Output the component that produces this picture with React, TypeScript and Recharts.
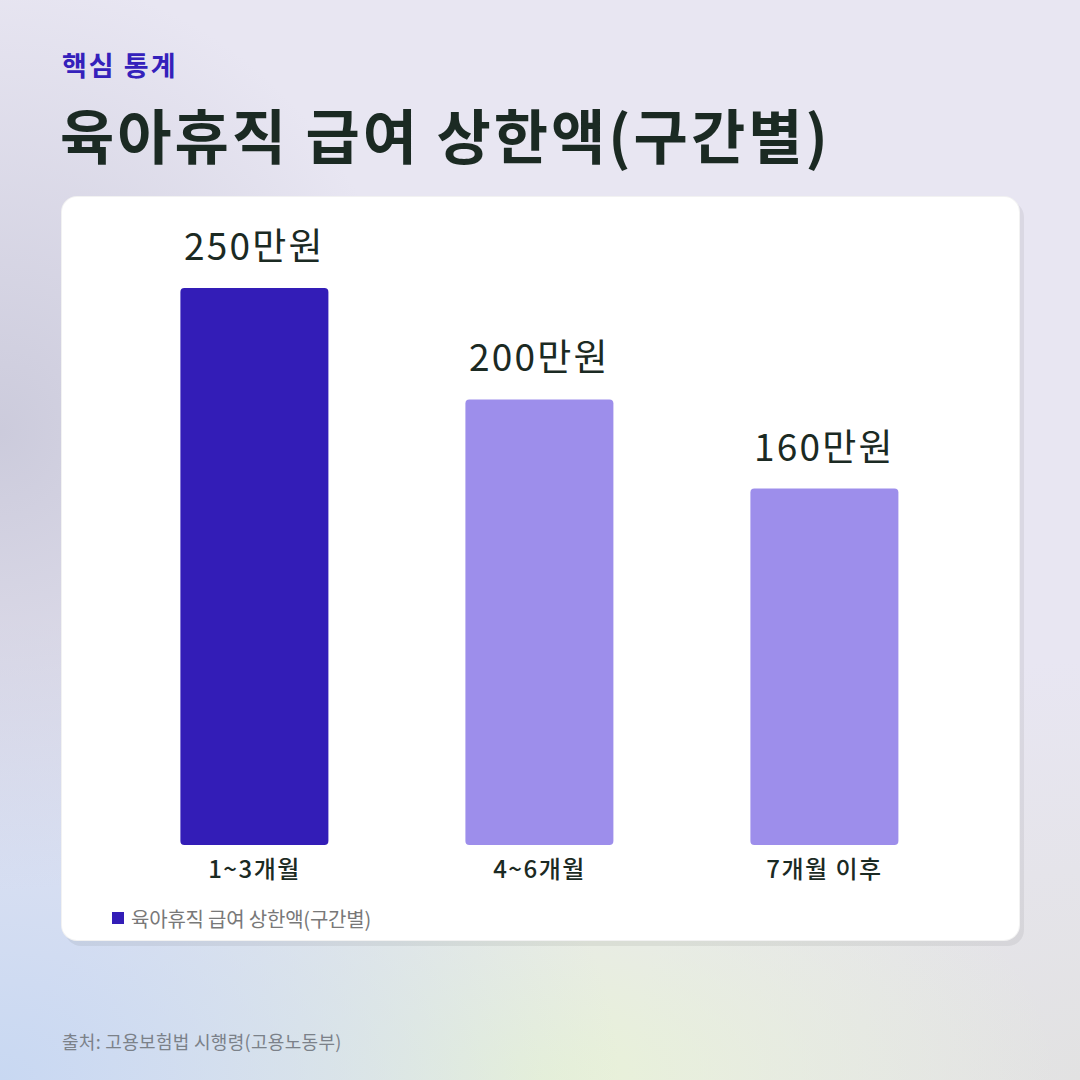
import React from "react";
import { BarChart, Bar, XAxis, YAxis, Cell, LabelList, Legend } from "recharts";

// 구간별 상한액 (만원)
const categories = ["1~3개월", "4~6개월", "7개월 이후"];
const amounts = [250, 200, 160];
const valueLabels = ["250만원", "200만원", "160만원"];
const seriesName = "육아휴직 급여 상한액(구간별)";

const data = categories.map((name, i) => ({ name, value: amounts[i], label: valueLabels[i] }));

const FONT = "'Noto Sans CJK KR', 'Noto Sans', sans-serif";
const DARK = "#1b2a23";
const ACCENT = "#331db7";
const LIGHT = "#9d8eeb";

const LegendContent = () => (
  <div style={{ display: "flex", alignItems: "center", height: 50, paddingTop: 4, boxSizing: "border-box" }}>
    <span style={{ display: "inline-block", width: 12, height: 12, background: ACCENT, marginRight: 7 }} />
    <span style={{ fontSize: 20, color: "#787878", fontFamily: FONT, letterSpacing: -0.2 }}>{seriesName}</span>
  </div>
);

const App: React.FC = () => {
  return (
    <div
      style={{
        position: "fixed",
        left: 0,
        top: 0,
        width: 1080,
        height: 1080,
        overflow: "hidden",
        fontFamily: FONT,
        backgroundColor: "#e8e6f2",
        backgroundImage: [
          "radial-gradient(ellipse 420px 460px at 0% 40%, rgba(185,185,205,0.6), rgba(185,185,205,0))",
          "radial-gradient(ellipse 620px 460px at 0% 100%, rgba(200,216,242,1), rgba(200,216,242,0))",
          "radial-gradient(ellipse 520px 300px at 50% 100%, rgba(232,242,214,1), rgba(232,242,214,0))",
          "radial-gradient(ellipse 450px 420px at 100% 100%, rgba(226,226,226,1), rgba(226,226,226,0))",
        ].join(", "),
      }}
    >
      <div
        style={{
          position: "absolute",
          left: 62,
          top: 45,
          fontSize: 27,
          fontWeight: 700,
          color: "#3421bb",
          letterSpacing: 2,
        }}
      >
        핵심 통계
      </div>
      <div
        style={{
          position: "absolute",
          left: 60,
          top: 94,
          fontSize: 59,
          fontWeight: 700,
          color: DARK,
          letterSpacing: 3,
          lineHeight: "80px",
        }}
      >
        육아휴직 급여 상한액(구간별)
      </div>

      <div
        style={{
          position: "absolute",
          left: 61,
          top: 196,
          width: 959,
          height: 745,
          background: "#ffffff",
          borderRadius: 16,
          border: "1px solid rgba(0,0,0,0.05)",
          boxSizing: "border-box",
          boxShadow: "4px 5px 0 rgba(0,0,0,0.06)",
        }}
      >
        <BarChart
          width={959}
          height={745}
          data={data}
          margin={{ top: 92, right: 54, left: 50, bottom: 0 }}
          barCategoryGap="24%"
          style={{ position: "absolute", left: 0, top: -1 }}
        >
          <XAxis
            dataKey="name"
            axisLine={false}
            tickLine={false}
            height={46}
            tick={{ fontSize: 24, fill: DARK, fontWeight: 500, fontFamily: FONT, letterSpacing: 1.5 }}
            tickMargin={10}
          />
          <YAxis hide domain={[0, 250]} />
          <Legend align="left" verticalAlign="bottom" content={<LegendContent />} />
          <Bar dataKey="value" name={seriesName} radius={4} isAnimationActive={false}>
            {data.map((d, i) => (
              <Cell key={d.name} fill={i === 0 ? ACCENT : LIGHT} />
            ))}
            <LabelList
              dataKey="label"
              position="top"
              offset={28}
              style={{ fontSize: 37, fill: DARK, fontWeight: 400, fontFamily: FONT, letterSpacing: 2.2 }}
            />
          </Bar>
        </BarChart>
      </div>

      <div style={{ position: "absolute", left: 62, top: 1028, fontSize: 18, color: "#7b8189", letterSpacing: 0.3 }}>
        출처: 고용보험법 시행령(고용노동부)
      </div>
    </div>
  );
};

export default App;
